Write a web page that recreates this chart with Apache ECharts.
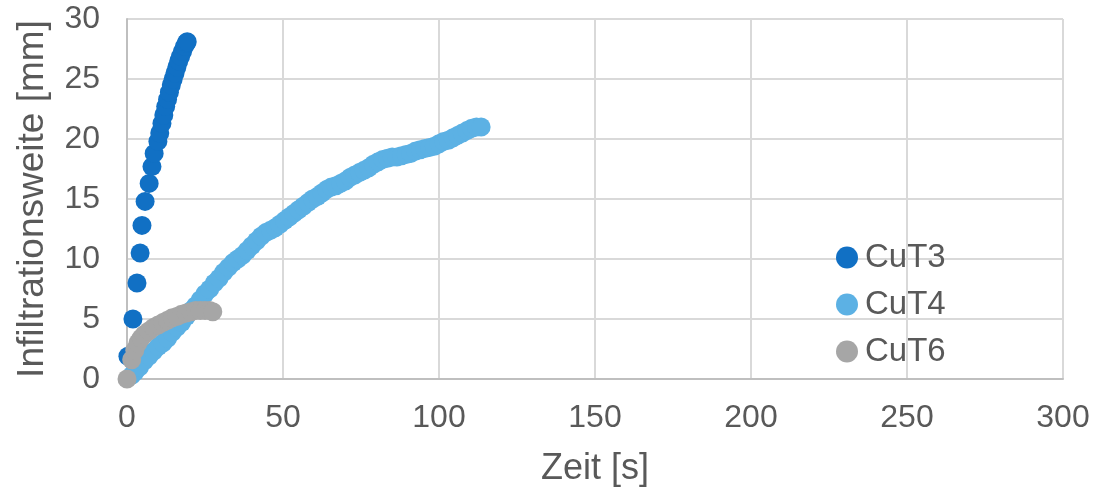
<!DOCTYPE html>
<html>
<head>
<meta charset="utf-8">
<script src="https://cdn.jsdelivr.net/npm/echarts@6/dist/echarts.min.js"></script>
<style>
html,body{margin:0;padding:0;background:#fff;}
#chart{width:1094px;height:492px;}
</style>
</head>
<body>
<div id="chart"></div>
<script>
// Data (time in s, infiltration in mm)
var seriesNames = ['CuT3', 'CuT4', 'CuT6'];
var xTicks = [0, 50, 100, 150, 200, 250, 300];
var yTicks = [0, 5, 10, 15, 20, 25, 30];

var cut3 = [
  [0.3, 1.9], [1.9, 5.0], [3.2, 8.0], [4.2, 10.5], [4.8, 12.8], [5.8, 14.8],
  [7.1, 16.3], [8.0, 17.7], [8.7, 18.8], [9.9, 19.8], [10.5, 20.5], [11.2, 21.3],
  [11.8, 22.0], [12.4, 22.7], [13.0, 23.3], [13.6, 23.9], [14.2, 24.5], [14.8, 25.0],
  [15.4, 25.5], [16.0, 26.0], [16.6, 26.5], [17.2, 26.9], [17.8, 27.3], [18.4, 27.7],
  [19.0, 28.0], [19.3, 28.1]
];

var cut4 = [
  [1.5, 0.3], [2.6, 0.6], [4.0, 1.0], [5.5, 1.5], [7.0, 1.9], [8.5, 2.3], [10.0, 2.7],
  [11.5, 3.0], [13.0, 3.4], [14.5, 3.9], [16.0, 4.3], [17.5, 4.7], [19.0, 5.2],
  [20.5, 5.7], [22.0, 6.1], [23.5, 6.6], [25.0, 7.1], [26.5, 7.5], [28.0, 8.0],
  [29.5, 8.4], [31.0, 8.9], [32.5, 9.3], [34.0, 9.7], [35.5, 10.0], [37.0, 10.3],
  [38.5, 10.7], [40.0, 11.1], [41.5, 11.5], [43.0, 11.9], [44.5, 12.2], [46.0, 12.4],
  [47.5, 12.6], [49.0, 12.9], [50.5, 13.2], [52.0, 13.5], [53.5, 13.8], [55.0, 14.1],
  [56.5, 14.4], [58.0, 14.7], [59.5, 15.0], [61.0, 15.2], [62.5, 15.5], [64.0, 15.8],
  [65.5, 16.0], [67.0, 16.1], [68.5, 16.3], [70.0, 16.5], [71.5, 16.8], [73.0, 17.0],
  [74.5, 17.2], [76.0, 17.4], [77.5, 17.6], [79.0, 17.9], [80.5, 18.1], [82.0, 18.3],
  [83.5, 18.4], [85.0, 18.5], [86.5, 18.5], [88.0, 18.6], [89.5, 18.7], [91.0, 18.8],
  [92.5, 19.0], [94.0, 19.1], [95.5, 19.2], [97.0, 19.3], [98.5, 19.4], [100.0, 19.6],
  [101.5, 19.8], [103.0, 19.9], [104.5, 20.1], [106.0, 20.3], [107.5, 20.5],
  [109.0, 20.7], [110.5, 20.9], [112.0, 21.0], [113.5, 21.0]
];

var cut6 = [
  [0.0, 0.0], [1.5, 1.6], [2.5, 2.4], [3.5, 3.0], [4.5, 3.4], [5.5, 3.7], [7.0, 4.0],
  [8.5, 4.3], [10.0, 4.5], [11.5, 4.7], [13.0, 4.9], [14.5, 5.1], [16.0, 5.2],
  [17.5, 5.4], [19.0, 5.5], [20.5, 5.6], [22.0, 5.7], [23.5, 5.7], [25.0, 5.7],
  [26.5, 5.7], [27.5, 5.6]
];

var colors = ['#1170C4', '#5CB1E4', '#A6A6A6'];
var textColor = '#595959';
var fontFamily = "'Liberation Sans', Arial, sans-serif";

var chart = echarts.init(document.getElementById('chart'), null, {renderer: 'canvas'});
chart.setOption({
  animation: false,
  backgroundColor: '#ffffff',
  color: colors,
  grid: {left: 127, right: 31, top: 19, bottom: 113, containLabel: false},
  legend: {
    orient: 'vertical',
    left: 831,
    top: 236,
    icon: 'circle',
    itemWidth: 22,
    itemHeight: 22,
    itemGap: 14,
    data: seriesNames,
    textStyle: {color: textColor, fontSize: 33, fontFamily: fontFamily, padding: [0, 0, 0, 2]}
  },
  xAxis: {
    type: 'value',
    min: xTicks[0],
    max: xTicks[xTicks.length - 1],
    interval: xTicks[1] - xTicks[0],
    name: 'Zeit [s]',
    nameLocation: 'middle',
    nameGap: 72,
    nameTextStyle: {color: textColor, fontSize: 36, fontFamily: fontFamily},
    axisLine: {show: true, lineStyle: {color: '#BFBFBF', width: 2}},
    axisTick: {show: false},
    axisLabel: {color: textColor, fontSize: 32, fontFamily: fontFamily, margin: 23},
    splitLine: {show: true, lineStyle: {color: '#D9D9D9', width: 2}}
  },
  yAxis: {
    type: 'value',
    min: yTicks[0],
    max: yTicks[yTicks.length - 1],
    interval: yTicks[1] - yTicks[0],
    name: 'Infiltrationsweite [mm]',
    nameLocation: 'middle',
    nameGap: 76,
    nameTextStyle: {color: textColor, fontSize: 37, fontFamily: fontFamily},
    axisLine: {show: true, lineStyle: {color: '#BFBFBF', width: 2}},
    axisTick: {show: false},
    axisLabel: {color: textColor, fontSize: 32, fontFamily: fontFamily, margin: 27},
    splitLine: {show: true, lineStyle: {color: '#D9D9D9', width: 2}}
  },
  series: [
    {name: seriesNames[0], type: 'scatter', data: cut3, symbolSize: 19, itemStyle: {color: colors[0], opacity: 1}},
    {name: seriesNames[1], type: 'scatter', data: cut4, symbolSize: 19, itemStyle: {color: colors[1], opacity: 1}},
    {name: seriesNames[2], type: 'scatter', data: cut6, symbolSize: 19, itemStyle: {color: colors[2], opacity: 1}}
  ]
});
</script>
</body>
</html>
